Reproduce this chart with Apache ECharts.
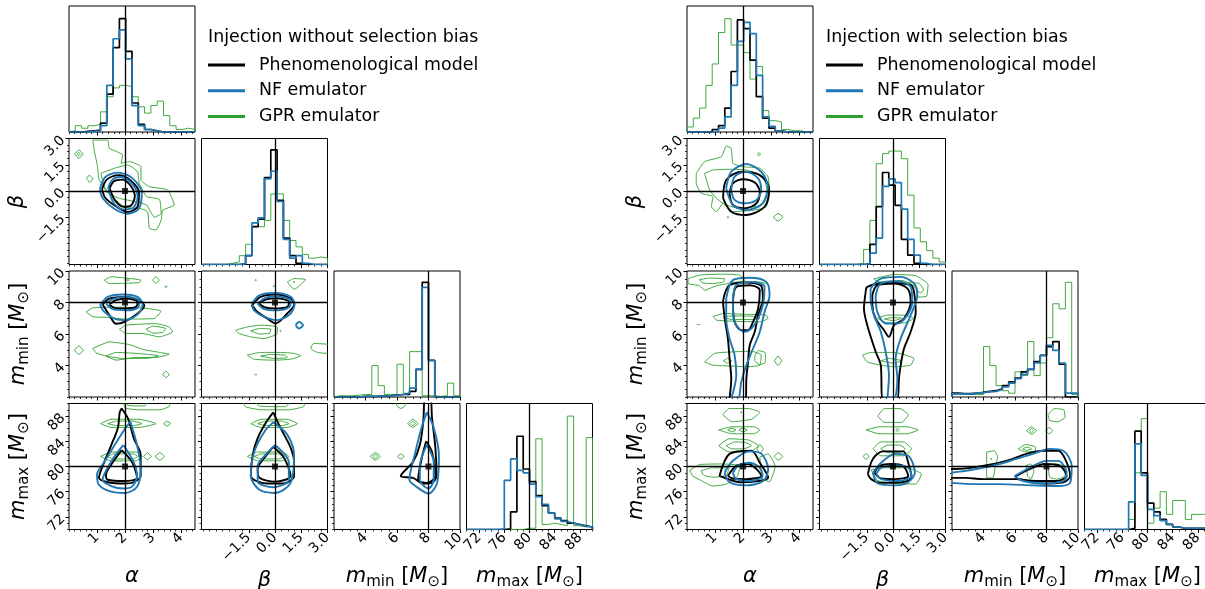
<!DOCTYPE html>
<html><head><meta charset="utf-8">
<script src="https://cdn.jsdelivr.net/npm/echarts@6/dist/echarts.min.js"></script>
<style>html,body{margin:0;padding:0;background:#fff}#c{width:1205px;height:589px}</style>
</head><body><div id="c"></div>
<script>
// ---------------- axes / truths ----------------
const rangeAlpha = [0, 4.5], rangeBeta = [-4.2, 3], rangeMmin = [2, 10], rangeMmax = [70, 90];
const ticksAlpha = [1, 2, 3, 4];
const ticksBeta = [-1.5, 0, 1.5, 3];
const ticksMmin = [4, 6, 8, 10];
const ticksMmax = [72, 76, 80, 84, 88];
const truthAlpha = 2, truthBeta = 0, truthMmin = 8, truthMmax = 80;

// ---------------- histograms (20 bins, height as fraction of panel) ----------------
const hL_alpha_pheno = [0,0,0.005,0.01,0.015,0.07,0.30,0.67,0.90,0.64,0.23,0.06,0.02,0.01,0,0,0,0,0,0];
const hL_alpha_nf    = [0,0,0,0.005,0.01,0.05,0.37,0.74,0.81,0.58,0.21,0.05,0.02,0.01,0,0,0,0,0,0];
const hL_alpha_gpr   = [0.01,0.05,0.03,0.05,0.06,0.16,0.28,0.35,0.37,0.36,0.28,0.20,0.15,0.21,0.245,0.13,0.05,0.02,0.03,0.02];
const hL_beta_pheno  = [0,0,0,0,0,0,0.005,0.07,0.30,0.36,0.69,0.91,0.51,0.21,0.07,0.01,0,0,0,0];
const hL_beta_nf     = [0,0,0,0,0,0,0.005,0.07,0.33,0.37,0.68,0.74,0.50,0.20,0.05,0.07,0.01,0,0,0];
const hL_beta_gpr    = [0,0,0,0,0.01,0.02,0.07,0.16,0.30,0.30,0.35,0.56,0.56,0.35,0.19,0.14,0.08,0.05,0.06,0.05];
const hL_mmin_pheno  = [0,0,0,0,0.005,0.005,0.005,0.01,0.01,0.015,0.02,0.02,0.045,0.22,0.91,0.29,0,0,0,0];
const hL_mmin_nf     = [0,0,0,0,0.005,0.005,0.005,0.01,0.01,0.015,0.02,0.03,0.07,0.22,0.87,0.29,0,0,0,0];
const hL_mmin_gpr    = [0.01,0.01,0.01,0.015,0.02,0.02,0.25,0.09,0.02,0.02,0.26,0.03,0.36,0.36,0.01,0.01,0.005,0.01,0.11,0.01];
const hL_mmax_pheno  = [0,0,0,0,0,0,0.005,0.14,0.74,0.48,0.38,0.27,0.19,0.13,0.09,0.07,0.05,0.04,0.03,0.02];
const hL_mmax_nf     = [0,0,0,0,0,0.005,0.39,0.56,0.47,0.45,0.36,0.26,0.20,0.13,0.085,0.065,0.05,0.04,0.025,0.02];
const hL_mmax_gpr    = [0,0,0,0,0,0,0,0,0,0.01,0.01,0.72,0.04,0.05,0.04,0.03,0.90,0.03,0.02,0.73];

const hR_alpha_pheno = [0,0,0,0,0.02,0.05,0.19,0.48,0.89,0.82,0.57,0.28,0.11,0.03,0.01,0,0,0,0,0];
const hR_alpha_nf    = [0,0,0,0,0.01,0.03,0.12,0.37,0.72,0.87,0.78,0.45,0.12,0.045,0.01,0,0,0,0,0];
const hR_alpha_gpr   = [0.04,0.11,0.19,0.37,0.54,0.79,0.90,0.69,0.69,0.63,0.42,0.52,0.17,0.09,0.08,0.02,0.01,0.01,0,0];
const hR_beta_pheno  = [0,0,0,0,0,0,0,0.005,0.16,0.46,0.73,0.63,0.47,0.20,0.075,0.01,0,0,0,0];
const hR_beta_nf     = [0,0,0,0,0,0,0,0.005,0.09,0.21,0.62,0.68,0.65,0.44,0.20,0.075,0.01,0,0,0];
const hR_beta_gpr    = [0,0,0,0,0,0,0.01,0.12,0.35,0.80,0.88,0.90,0.90,0.84,0.55,0.29,0.18,0.11,0.05,0.02];
const hR_mmin_pheno  = [0.03,0.027,0.027,0.03,0.037,0.045,0.05,0.065,0.09,0.12,0.15,0.20,0.22,0.28,0.33,0.40,0.44,0.26,0,0];
const hR_mmin_nf     = [0.025,0.025,0.025,0.03,0.035,0.04,0.045,0.06,0.08,0.11,0.145,0.18,0.22,0.27,0.33,0.41,0.37,0.27,0.03,0.03];
const hR_mmin_gpr    = [0.02,0.02,0.02,0.02,0.02,0.40,0.25,0.09,0.05,0.03,0.20,0.17,0.44,0.17,0.27,0.47,0.74,0.70,0.91,0.02];
const hR_mmax_pheno  = [0,0,0,0,0,0,0,0.01,0.78,0.45,0.21,0.14,0.08,0.04,0.02,0.01,0.01,0.01,0.01,0.01];
const hR_mmax_nf     = [0,0,0,0,0,0,0,0.22,0.68,0.43,0.16,0.11,0.07,0.04,0.02,0.01,0.01,0.01,0.01,0.01];
const hR_mmax_gpr    = [0,0,0,0,0,0,0,0.08,0.45,0.88,0.05,0.17,0.30,0.12,0.23,0.23,0.08,0.12,0.12,0.12];

// ---------------- contours (lists of polylines in data units) ----------------
// LEFT: alpha-beta
const cL_ab_pheno = [
 [[1.18,0.1],[1.35,0.65],[1.75,0.9],[2.2,0.6],[2.5,-0.1],[2.45,-0.9],[2.1,-1.2],[1.7,-0.9],[1.3,-0.4],[1.18,0.1]],
 [[1.45,0.15],[1.6,0.55],[1.9,0.65],[2.2,0.3],[2.35,-0.3],[2.2,-0.85],[1.95,-0.9],[1.65,-0.55],[1.45,0.15]]];
const cL_ab_nf = [
 [[1.1,0.1],[1.3,0.8],[1.75,1.05],[2.25,0.75],[2.6,-0.1],[2.5,-1.0],[2.1,-1.3],[1.6,-1.0],[1.2,-0.4],[1.1,0.1]],
 [[1.4,0.2],[1.55,0.65],[1.85,0.8],[2.25,0.4],[2.45,-0.3],[2.3,-0.95],[1.95,-1.05],[1.6,-0.7],[1.4,0.2]]];
const cL_ab_gpr = [
 [[0.85,2.91],[1.38,2.91],[1.44,2.44],[1.92,2.06],[1.86,1.58],[2.15,1.68],[2.57,1.39],[2.57,0.63],[2.87,0.25],[3.52,0.06],[3.76,-0.8],[3.35,-1.09],[3.29,-1.66],[3.11,-2.23],[2.87,-2.13],[2.81,-1.18],[2.51,-0.99],[2.0,-0.95],[1.44,-0.13],[1.08,0.63],[1.02,1.39],[0.9,2.34],[0.85,2.91]],
 [[1.14,1.01],[1.62,1.3],[2.1,1.49],[2.45,1.1],[2.51,0.44],[2.77,-0.32],[3.23,-0.48],[3.29,-1.28],[3.05,-1.5],[2.77,-0.8],[2.39,-0.61],[1.8,-0.42],[1.32,-0.04],[1.14,1.01]],
 [[0.2,2.11],[0.35,2.35],[0.5,2.11],[0.35,1.87],[0.2,2.11]],
 [[0.29,2.11],[0.35,2.2],[0.41,2.11],[0.35,2.02],[0.29,2.11]],
 [[0.62,0.7],[0.72,0.9],[0.85,0.7],[0.75,0.5],[0.62,0.7]]];
// LEFT: alpha-mmin
const cL_am_pheno = [
 [[1.20,7.87],[1.44,8.25],[1.98,8.36],[2.51,8.15],[2.69,7.79],[2.45,7.3],[1.98,6.77],[1.68,6.65],[1.44,7.2],[1.20,7.87]],
 [[1.44,7.87],[1.68,8.15],[2.04,8.25],[2.45,8.04],[2.39,7.72],[2.04,7.62],[1.62,7.66],[1.44,7.87]]];
const cL_am_nf = [
 [[1.11,7.83],[1.38,8.36],[1.92,8.51],[2.45,8.36],[2.63,7.87],[2.45,7.24],[1.98,6.88],[1.62,6.98],[1.26,7.41],[1.11,7.83]],
 [[1.32,7.94],[1.62,8.25],[2.04,8.36],[2.51,8.1],[2.45,7.66],[2.04,7.51],[1.56,7.58],[1.32,7.94]]];
const cL_am_gpr = [
 [[1.26,9.42],[1.5,9.63],[1.92,9.57],[2.57,9.42],[2.51,9.27],[1.92,9.21],[1.44,9.21],[1.26,9.42]],
 [[2.05,9.44],[2.1,9.5],[2.15,9.44],[2.1,9.38],[2.05,9.44]],
 [[2.98,9.42],[3.1,9.63],[3.22,9.42],[3.1,9.21],[2.98,9.42]],
 [[3.42,9.0],[3.46,9.06],[3.5,9.0],[3.46,8.94],[3.42,9.0]],
 [[0.61,7.4],[0.85,7.66],[1.6,7.7],[2.6,7.66],[3.29,7.45],[3.05,6.98],[2.0,6.95],[1.4,7.05],[0.85,7.1],[0.61,7.4]],
 [[1.8,6.3],[2.04,6.56],[3.11,6.66],[3.58,6.45],[3.7,6.14],[3.23,5.82],[2.63,6.03],[2.04,6.03],[1.8,6.3]],
 [[2.75,6.3],[3.0,6.5],[3.45,6.35],[3.35,6.1],[3.0,6.05],[2.75,6.3]],
 [[0.19,4.97],[0.35,5.25],[0.51,4.97],[0.35,4.7],[0.19,4.97]],
 [[0.85,5.08],[1.44,5.5],[2.15,5.33],[2.63,5.03],[3.23,4.83],[3.58,4.72],[3.11,4.51],[2.39,4.51],[1.68,4.34],[1.32,4.6],[0.97,4.8],[0.85,5.08]],
 [[1.32,4.6],[1.68,4.83],[2.4,4.77],[3.2,4.62],[2.8,4.45],[1.9,4.45],[1.32,4.6]],
 [[3.35,3.43],[3.46,3.64],[3.58,3.43],[3.46,3.22],[3.35,3.43]]];
// LEFT: beta-mmin
const cL_bm_pheno = [
 [[-1.30,7.83],[-0.82,8.36],[0.04,8.51],[0.9,8.25],[1.09,7.87],[0.70,7.3],[0.04,6.67],[-0.44,6.98],[-1.01,7.41],[-1.30,7.83]],
 [[-0.91,7.94],[-0.5,8.2],[0.1,8.27],[0.8,8.04],[0.7,7.72],[0.04,7.62],[-0.6,7.7],[-0.91,7.94]]];
const cL_bm_nf = [
 [[-1.35,7.87],[-0.9,8.45],[0.0,8.6],[0.9,8.36],[1.12,7.87],[0.8,7.2],[0.04,6.88],[-0.63,7.1],[-1.15,7.45],[-1.35,7.87]],
 [[-1.0,7.94],[-0.55,8.3],[0.1,8.4],[0.9,8.1],[0.8,7.7],[0.1,7.5],[-0.65,7.6],[-1.0,7.94]],
 [[1.18,6.56],[1.37,6.77],[1.6,6.56],[1.37,6.35],[1.18,6.56]]];
const cL_bm_gpr = [
 [[-1.14,9.42],[-1.1,9.47],[-1.06,9.42],[-1.1,9.37],[-1.14,9.42]],
 [[-0.1,9.04],[-0.06,9.09],[-0.02,9.04],[-0.06,8.99],[-0.1,9.04]],
 [[0.7,9.3],[1.09,9.52],[1.75,9.45],[1.37,9.04],[1.09,8.83],[0.9,9.04],[0.7,9.3]],
 [[1.05,9.3],[1.09,9.35],[1.13,9.3],[1.09,9.25],[1.05,9.3]],
 [[-2.25,6.24],[-1.58,6.45],[-0.82,6.56],[0.13,6.45],[0.13,6.03],[-0.63,5.71],[-1.39,5.82],[-2.06,6.03],[-2.25,6.24]],
 [[-1.39,6.2],[-0.9,6.35],[-0.25,6.3],[-0.3,6.05],[-0.9,6.0],[-1.39,6.2]],
 [[0.28,6.2],[0.32,6.25],[0.36,6.2],[0.32,6.15],[0.28,6.2]],
 [[3.1,5.35],[2.2,5.4],[2.04,5.08],[2.42,4.83],[3.1,4.76]],
 [[-1.58,4.66],[-0.82,4.83],[0.32,4.83],[1.09,4.77],[1.47,4.62],[0.9,4.4],[-0.06,4.34],[-1.2,4.4],[-1.58,4.66]],
 [[-0.82,4.6],[-0.25,4.7],[0.6,4.65],[0.7,4.5],[-0.06,4.45],[-0.82,4.6]],
 [[-1.14,3.43],[-1.1,3.48],[-1.06,3.43],[-1.1,3.38],[-1.14,3.43]]];
// LEFT: alpha-mmax
const cL_aM_pheno = [
 [[1.88,89.2],[2.12,87.5],[2.31,84.5],[2.56,81.8],[2.56,78.5],[2.31,77.5],[2.0,77.3],[1.38,77.5],[1.07,78.2],[1.26,80.7],[1.51,83.4],[1.75,86.2],[1.81,88.6],[1.88,89.2]],
 [[1.88,82.6],[2.25,80.7],[2.43,78.2],[2.0,77.7],[1.38,77.9],[1.32,78.7],[1.57,80.7],[1.88,82.6]]];
const cL_aM_nf = [
 [[2.19,87.1],[2.43,83.4],[2.56,79.6],[2.43,76.8],[2.0,75.8],[1.51,76.0],[1.07,77.1],[1.0,78.7],[1.26,80.7],[1.63,83.4],[2.0,86.0],[2.19,87.1]],
 [[1.94,83.4],[2.31,80.7],[2.43,78.5],[2.25,76.8],[1.94,76.5],[1.51,76.9],[1.2,77.9],[1.38,79.8],[1.69,82.0],[1.94,83.4]]];
const cL_aM_gpr = [
 [[1.94,90.6],[2.0,89.3],[2.5,89.0],[3.25,89.0],[3.6,89.6],[3.5,90.6]],
 [[1.94,90.6],[2.1,89.7],[2.7,89.6],[2.85,90.6]],
 [[1.13,86.8],[1.5,87.5],[2.5,87.5],[3.11,86.8],[2.5,86.2],[1.5,86.2],[1.13,86.8]],
 [[1.38,86.8],[1.7,87.2],[2.3,87.2],[2.6,86.8],[2.3,86.5],[1.7,86.5],[1.38,86.8]],
 [[3.38,86.8],[3.5,87.2],[3.63,86.8],[3.5,86.4],[3.38,86.8]],
 [[1.13,81.6],[1.5,82.3],[2.4,82.3],[2.6,81.6],[2.4,80.9],[1.5,80.9],[1.13,81.6]],
 [[1.38,81.6],[1.6,82.0],[2.3,82.0],[2.45,81.6],[2.3,81.2],[1.6,81.2],[1.38,81.6]],
 [[2.66,81.6],[2.8,82.15],[2.94,81.6],[2.8,81.05],[2.66,81.6]],
 [[3.07,81.6],[3.24,82.2],[3.41,81.6],[3.24,81.0],[3.07,81.6]]];
// LEFT: beta-mmax
const cL_bM_pheno = [
 [[-0.1,88.6],[0.3,86.2],[0.89,83.0],[1.09,80.7],[1.09,78.5],[0.49,77.3],[-0.49,77.3],[-1.38,78.5],[-1.28,81.8],[-0.99,84.5],[-0.49,87.1],[-0.1,88.6]],
 [[-0.1,83.1],[0.49,81.5],[0.89,78.5],[0.0,77.6],[-0.89,78.2],[-0.99,79.6],[-0.49,81.8],[-0.1,83.1]]];
const cL_bM_nf = [
 [[-0.1,87.0],[0.69,85.1],[1.09,81.8],[0.89,77.4],[0.0,75.8],[-0.89,76.3],[-1.38,78.5],[-1.19,82.3],[-0.59,85.6],[-0.1,87.0]],
 [[0.0,83.4],[0.79,80.7],[0.79,77.9],[-0.1,76.7],[-0.99,77.6],[-0.99,80.1],[-0.49,82.0],[0.0,83.4]]];
const cL_bM_gpr = [
 [[-1.88,90.6],[-1.7,89.5],[-0.8,89.0],[0.8,89.0],[1.68,89.6],[1.6,90.6]],
 [[-1.2,90.6],[-0.9,89.6],[0.6,89.5],[1.0,90.6]],
 [[-1.38,86.8],[-0.8,87.5],[0.7,87.5],[1.28,86.8],[0.7,86.2],[-0.8,86.2],[-1.38,86.8]],
 [[-0.99,86.8],[-0.5,87.2],[0.4,87.2],[0.79,86.8],[0.4,86.5],[-0.5,86.5],[-0.99,86.8]],
 [[-1.58,81.6],[-1.0,82.3],[0.4,82.3],[0.79,81.6],[0.4,80.9],[-1.0,80.9],[-1.58,81.6]],
 [[-1.19,81.6],[-0.8,82.0],[0.2,82.0],[0.5,81.6],[0.2,81.2],[-0.8,81.2],[-1.19,81.6]]];
// LEFT: mmin-mmax
const cL_mM_pheno = [
 [[7.72,91],[8.1,91],[8.22,87.8],[8.44,82.9],[8.51,78.5],[8.22,77.4],[7.67,77.3],[7.01,78.2],[6.24,78.5],[7.01,80.7],[7.45,83.4],[7.67,87.3],[7.72,91]],
 [[7.85,84.0],[8.22,82.3],[8.44,78.5],[7.89,77.4],[7.34,77.9],[7.56,81.2],[7.85,84.0]]];
const cL_mM_nf = [
 [[7.89,88.6],[8.33,86.2],[8.66,81.8],[8.55,77.4],[8.0,75.7],[7.23,76.8],[6.79,77.9],[7.12,81.8],[7.56,86.2],[7.89,88.6]],
 [[7.89,83.4],[8.33,80.7],[8.33,77.9],[8.0,76.5],[7.45,77.9],[7.45,80.1],[7.89,83.4]]];
const cL_mM_gpr = [
 [[5.9,90.6],[6.0,89.6],[6.25,89.2],[6.5,89.6],[6.6,90.6]],
 [[6.68,86.8],[7.0,87.5],[7.34,86.8],[7.0,86.2],[6.68,86.8]],
 [[6.85,86.8],[7.0,87.15],[7.17,86.8],[7.0,86.5],[6.85,86.8]],
 [[4.3,81.6],[4.62,82.2],[4.95,81.6],[4.62,81.0],[4.3,81.6]],
 [[4.47,81.6],[4.62,81.9],[4.78,81.6],[4.62,81.3],[4.47,81.6]],
 [[6.02,81.6],[6.24,82.0],[6.46,81.6],[6.24,81.2],[6.02,81.6]]];

// RIGHT: alpha-beta
const cR_ab_pheno = [
 [[1.29,-0.42],[1.40,0.63],[1.94,1.1],[2.6,0.91],[2.93,0.15],[2.77,-0.9],[2.12,-1.37],[1.58,-1.18],[1.29,-0.42]],
 [[1.52,-0.13],[1.64,0.44],[2.0,0.67],[2.42,0.48],[2.6,-0.04],[2.48,-0.7],[2.06,-0.99],[1.64,-0.8],[1.52,-0.13]]];
const cR_ab_nf = [
 [[1.40,0.15],[1.58,1.1],[2.12,1.54],[2.65,1.1],[2.89,0.25],[2.71,-0.7],[2.12,-1.09],[1.64,-0.8],[1.40,0.15]],
 [[1.58,0.06],[1.7,0.82],[2.12,1.1],[2.54,0.72],[2.65,0.06],[2.48,-0.51],[2.06,-0.7],[1.7,-0.51],[1.58,0.06]]];
const cR_ab_gpr = [
 [[0.33,1.01],[0.63,1.68],[1.23,1.96],[1.40,2.57],[1.58,2.44],[1.64,1.58],[2.0,1.39],[2.6,1.3],[2.89,0.82],[2.95,-0.13],[2.83,-0.9],[2.42,-1.09],[1.64,-1.18],[1.29,-0.7],[1.05,-1.18],[0.87,-0.9],[0.93,-0.32],[0.51,-0.13],[0.33,0.44],[0.33,1.01]],
 [[0.63,1.01],[0.93,1.2],[1.52,1.24],[2.12,1.2],[2.71,0.82],[2.86,0.06],[2.65,-0.8],[1.88,-0.99],[1.40,-0.8],[1.11,-0.51],[0.81,0.06],[0.63,1.01]],
 [[2.52,2.1],[2.57,2.2],[2.62,2.1],[2.57,2.0],[2.52,2.1]],
 [[3.08,-1.5],[3.25,-1.28],[3.42,-1.5],[3.25,-1.72],[3.08,-1.5]],
 [[1.43,-1.5],[1.46,-1.45],[1.49,-1.5],[1.46,-1.55],[1.43,-1.5]]];
// RIGHT: alpha-mmin
const cR_am_pheno = [
 [[1.35,8.57],[1.52,9.1],[2.06,9.27],[2.65,9.06],[2.71,8.25],[2.54,7.2],[2.42,6.14],[2.24,5.29],[2.18,4.23],[2.12,3.17],[2.1,1.9],[1.52,1.9],[1.58,3.17],[1.52,4.44],[1.46,5.71],[1.35,6.98],[1.29,8.04],[1.35,8.57]],
 [[1.64,8.04],[1.76,8.99],[2.24,9.1],[2.6,8.78],[2.54,7.62],[2.36,6.77],[2.18,6.24],[1.94,6.24],[1.7,6.77],[1.64,8.04]]];
const cR_am_nf = [
 [[1.40,8.25],[1.64,9.42],[2.24,9.57],[2.83,9.31],[2.95,8.47],[2.77,7.41],[2.6,6.14],[2.36,5.08],[2.12,4.02],[1.94,2.96],[1.82,1.9],[1.58,1.9],[1.76,3.39],[1.7,4.66],[1.52,5.71],[1.40,6.98],[1.40,8.25]],
 [[1.64,8.25],[1.76,9.1],[2.3,9.31],[2.77,8.99],[2.71,7.83],[2.54,6.98],[2.3,6.35],[2.06,6.14],[1.76,6.56],[1.64,7.41],[1.64,8.25]]];
const cR_am_gpr = [
 [[0.04,9.52],[0.45,9.74],[1.3,9.8],[1.88,9.74],[2.06,9.4],[1.6,9.25],[1.05,9.06],[0.63,8.78],[0.45,9.06],[0.04,9.21],[0.04,9.52]],
 [[0.45,9.45],[0.8,9.55],[1.35,9.5],[1.3,9.3],[0.9,9.2],[0.55,9.25],[0.45,9.45]],
 [[2.4,9.35],[2.9,9.15],[2.95,8.1],[2.75,7.9],[2.7,8.6]],
 [[0.93,7.1],[1.29,7.3],[2.12,7.25],[2.83,7.2],[2.89,6.98],[2.6,6.77],[1.64,6.81],[1.05,6.88],[0.93,7.1]],
 [[1.29,7.05],[1.6,7.15],[2.4,7.12],[2.6,7.0],[2.3,6.92],[1.6,6.92],[1.29,7.05]],
 [[0.35,6.6],[0.47,6.6]],
 [[0.63,4.23],[0.99,4.77],[1.7,4.87],[2.3,4.91],[2.65,4.66],[2.6,4.02],[2.12,3.92],[1.4,3.98],[0.93,4.02],[0.63,4.23]],
 [[1.3,4.3],[1.45,4.45],[1.6,4.3],[1.45,4.15],[1.3,4.3]],
 [[2.42,4.6],[2.55,4.95],[2.8,4.8],[2.8,4.2],[2.6,4.05],[2.42,4.3],[2.42,4.6]],
 [[3.12,4.3],[3.25,4.6],[3.38,4.3],[3.25,4.0],[3.12,4.3]]];
// RIGHT: beta-mmin
const cR_bm_pheno = [
 [[-1.56,8.68],[-1.47,8.99],[-0.4,9.25],[1.01,9.1],[1.2,8.68],[1.3,7.41],[1.01,6.14],[0.63,5.08],[0.44,4.02],[0.34,3.17],[0.25,1.9],[-0.61,1.9],[-0.7,4.02],[-0.99,4.87],[-1.47,6.56],[-1.66,7.62],[-1.56,8.68]],
 [[-1.18,8.47],[-0.9,9.1],[0.06,9.21],[0.82,8.89],[1.01,8.04],[0.63,6.98],[0.06,6.56],[-0.23,5.82],[-0.51,6.24],[-0.99,6.98],[-1.18,7.83],[-1.18,8.47]]];
const cR_bm_nf = [
 [[-1.28,8.89],[-0.7,9.52],[0.44,9.63],[1.2,9.21],[1.39,8.47],[1.01,7.2],[0.44,5.71],[0.15,4.44],[0.25,3.17],[0.06,1.9],[-0.32,1.9],[-0.23,3.39],[-0.42,4.87],[-0.7,6.14],[-1.09,7.2],[-1.28,8.25],[-1.28,8.89]],
 [[-0.99,8.47],[-0.7,9.21],[0.25,9.35],[1.01,8.99],[1.1,8.04],[0.82,7.2],[0.25,6.67],[-0.42,6.67],[-0.9,7.41],[-0.99,8.47]]];
const cR_bm_gpr = [
 [[-1.1,9.5],[0.06,9.78],[1.3,9.7],[2.0,9.15],[1.92,8.4],[1.4,8.35],[1.3,9.0],[0.5,9.4],[-0.8,9.3],[-1.1,9.5]],
 [[0.9,9.3],[1.5,9.2],[1.75,8.8],[1.55,8.6],[1.3,8.9],[0.9,9.3]],
 [[-0.9,7.0],[-0.3,7.2],[0.6,7.2],[1.2,7.0],[0.6,6.7],[-0.3,6.7],[-0.9,7.0]],
 [[-0.5,6.95],[0.0,7.05],[0.5,7.0],[0.0,6.85],[-0.5,6.95]],
 [[-1.75,4.66],[-1.28,4.83],[0.06,4.83],[1.2,4.44],[1.01,4.02],[0.06,3.92],[-0.7,4.02],[-1.47,4.23],[-1.75,4.66]],
 [[-0.7,4.3],[-0.2,4.45],[0.5,4.3],[0.0,4.15],[-0.7,4.3]]];
// RIGHT: alpha-mmax
const cR_aM_pheno = [
 [[1.16,78.5],[1.52,82.0],[2.3,82.5],[2.6,80.6],[2.9,78.2],[2.54,77.7],[1.88,77.5],[1.4,78.1],[1.16,78.5]],
 [[1.46,78.5],[1.76,80.1],[2.18,80.4],[2.48,79.6],[2.66,78.5],[2.12,78.0],[1.64,78.1],[1.46,78.5]]];
const cR_aM_nf = [
 [[1.34,79.0],[1.64,80.9],[2.24,82.4],[2.66,82.0],[2.9,79.6],[2.72,77.7],[2.12,77.0],[1.52,77.5],[1.34,79.0]],
 [[1.64,79.0],[1.82,80.1],[2.24,80.6],[2.6,79.8],[2.7,78.5],[2.24,77.7],[1.76,78.0],[1.64,79.0]]];
const cR_aM_gpr = [
 [[1.28,88.2],[1.5,89.2],[2.2,89.2],[2.6,88.6],[2.3,87.5],[1.6,87.1],[1.28,88.2]],
 [[1.9,88.6],[1.93,88.7],[1.96,88.6],[1.93,88.5],[1.9,88.6]],
 [[1.13,85.8],[1.6,86.3],[2.4,86.3],[2.6,85.8],[2.4,85.2],[1.6,85.2],[1.13,85.8]],
 [[1.45,85.8],[1.6,86.1],[1.75,85.8],[1.6,85.5],[1.45,85.8]],
 [[1.85,85.8],[2.0,86.1],[2.15,85.8],[2.0,85.5],[1.85,85.8]],
 [[1.13,83.3],[1.5,84.4],[2.2,84.2],[2.55,83.3],[2.3,82.4],[1.5,82.3],[1.13,83.3]],
 [[1.4,83.3],[1.7,83.9],[2.1,83.8],[2.3,83.3],[2.0,82.8],[1.6,82.8],[1.4,83.3]],
 [[2.5,82.8],[2.6,83.5],[2.72,82.8],[2.6,82.1],[2.5,82.8]],
 [[3.1,81.6],[3.26,82.2],[3.42,81.6],[3.26,81.0],[3.1,81.6]],
 [[0.1,79.4],[0.45,80.3],[1.3,80.4],[1.9,80.1],[1.8,78.5],[1.4,77.2],[0.9,76.9],[0.5,77.8],[0.2,78.5],[0.1,79.4]],
 [[0.5,79.3],[0.9,79.8],[1.5,79.7],[1.4,78.6],[0.95,78.3],[0.6,78.6],[0.5,79.3]],
 [[2.6,81.5],[2.9,82.0],[3.15,80.0],[2.95,77.6],[2.7,78.0],[2.6,81.5]]];
// RIGHT: beta-mmax
const cR_bM_pheno = [
 [[-1.44,78.8],[-1.15,81.2],[-0.58,82.4],[0.58,82.4],[0.87,80.6],[1.06,78.2],[0.48,77.5],[-0.67,77.4],[-1.25,78.0],[-1.44,78.8]],
 [[-1.06,79.0],[-0.77,80.1],[-0.1,80.4],[0.58,80.1],[0.87,78.5],[0.1,78.0],[-0.67,78.1],[-1.06,79.0]]];
const cR_bM_nf = [
 [[-1.15,79.0],[-0.67,80.6],[0.1,82.0],[0.87,81.7],[1.25,79.0],[0.87,77.5],[0.1,77.0],[-0.87,77.3],[-1.15,79.0]],
 [[-0.96,78.8],[-0.67,79.8],[0.1,80.2],[0.87,79.8],[1.06,78.5],[0.29,77.7],[-0.67,78.0],[-0.96,78.8]]];
const cR_bM_gpr = [
 [[-0.87,88.0],[-0.5,89.2],[0.4,89.2],[0.87,88.2],[0.5,87.0],[-0.5,87.0],[-0.87,88.0]],
 [[-1.54,85.8],[-0.8,86.3],[0.8,86.3],[1.44,85.8],[0.8,85.2],[-0.8,85.2],[-1.54,85.8]],
 [[0.15,85.8],[0.25,86.05],[0.35,85.8],[0.25,85.55],[0.15,85.8]],
 [[-1.15,82.8],[-0.7,83.9],[0.6,83.9],[1.06,82.8],[0.6,81.7],[-0.7,81.7],[-1.15,82.8]],
 [[-0.7,82.8],[-0.3,83.4],[0.4,83.4],[0.7,82.8],[0.4,82.2],[-0.3,82.2],[-0.7,82.8]],
 [[-1.7,81.6],[-1.54,82.1],[-1.38,81.6],[-1.54,81.1],[-1.7,81.6]],
 [[-1.25,79.5],[-0.5,79.8],[0.8,79.8],[1.63,78.8],[1.3,77.2],[0.2,77.3],[-0.9,77.8],[-1.25,79.5]]];
// RIGHT: mmin-mmax
const cR_mM_pheno = [
 [[1.9,79.6],[2.87,79.7],[3.94,80.1],[5.0,80.6],[5.86,81.2],[6.72,82.0],[7.79,82.5],[8.75,82.5],[9.18,81.2],[9.5,78.5],[9.07,77.5],[7.79,77.3],[6.08,78.0],[3.94,78.0],[2.87,78.2],[1.9,78.2]],
 [[6.08,78.5],[6.93,79.6],[7.89,80.4],[8.85,80.1],[9.28,78.5],[8.64,77.7],[7.36,77.7],[6.08,78.2],[6.08,78.5]]];
const cR_mM_nf = [
 [[1.9,79.0],[2.87,79.3],[3.94,79.8],[5.0,80.4],[6.08,81.2],[7.15,82.0],[8.21,82.8],[9.07,82.5],[9.6,80.1],[9.5,77.4],[8.64,76.9],[7.15,77.0],[5.0,77.2],[3.5,77.2],[1.9,77.4]],
 [[5.97,78.5],[6.93,79.8],[8.0,80.9],[8.75,80.9],[9.28,79.0],[9.07,77.7],[7.79,77.3],[6.5,77.7],[5.97,78.5]]];
const cR_mM_gpr = [
 [[8.1,88.2],[8.5,89.2],[9.1,89.0],[9.18,87.8],[8.7,87.1],[8.2,87.3],[8.1,88.2]],
 [[6.72,85.7],[7.04,86.3],[7.36,85.7],[7.04,85.1],[6.72,85.7]],
 [[6.9,85.7],[7.04,86.0],[7.18,85.7],[7.04,85.4],[6.9,85.7]],
 [[7.95,85.7],[8.17,86.2],[8.4,85.7],[8.17,85.2],[7.95,85.7]],
 [[6.2,82.8],[6.7,83.5],[7.3,83.1],[7.3,82.5],[6.7,82.3],[6.2,82.8]],
 [[6.5,82.8],[6.75,83.1],[7.05,82.8],[6.75,82.55],[6.5,82.8]],
 [[4.2,82.3],[4.7,82.5],[4.9,81.5],[4.75,80.0],[4.6,78.2],[4.2,78.2],[4.2,80.0],[4.2,82.3]],
 [[4.45,81.2],[4.5,81.3],[4.55,81.2],[4.5,81.1],[4.45,81.2]],
 [[8.1,80.3],[8.6,80.4],[9.15,80.0],[9.18,78.5],[8.7,78.0],[8.2,78.3],[8.1,80.3]],
 [[6.72,80.2],[7.0,80.4],[7.2,79.2],[7.0,78.0],[6.8,78.5],[6.72,80.2]]];

// ---------------- assembly ----------------
const FONT = 'DejaVu Sans';
const P = ['alpha','beta','mmin','mmax'];
const RANGE = {alpha:rangeAlpha, beta:rangeBeta, mmin:rangeMmin, mmax:rangeMmax};
const MAJOR = {alpha:ticksAlpha, beta:ticksBeta, mmin:ticksMmin, mmax:ticksMmax};
const MINOR_DIV = {alpha:5, beta:4, mmin:4, mmax:4};
const TRUTH = {alpha:truthAlpha, beta:truthBeta, mmin:truthMmin, mmax:truthMmax};
const FMT = {
  alpha: v => String(v),
  beta: v => (v < 0 ? '\u2212' : '') + Math.abs(v).toFixed(1),
  mmin: v => String(v),
  mmax: v => String(v)
};
const AXNAME = {
  alpha: '{i|\u03b1}', beta: '{i|\u03b2}',
  mmin: '{i|m}{s|min} {r|[}{i|M}{s|\u2299}{r|]}',
  mmax: '{i|m}{s|max} {r|[}{i|M}{s|\u2299}{r|]}'
};
const NAME_STYLE = {fontFamily:FONT, fontSize:21, color:'#000', lineHeight:26,
  rich:{ i:{fontFamily:FONT, fontStyle:'italic', fontSize:21, lineHeight:26, color:'#000'},
         s:{fontFamily:FONT, fontSize:15, lineHeight:15, verticalAlign:'bottom', color:'#000'},
         r:{fontFamily:FONT, fontSize:21, lineHeight:26, color:'#000'} } };
const MODELS = ['pheno','nf','gpr'];
const MNAME = {pheno:'Phenomenological model', nf:'NF emulator', gpr:'GPR emulator'};
const MCOLOR = {pheno:'#000000', nf:'#1f77b4', gpr:'#2ca02c'};
const HIST = {
  L:{alpha:{pheno:hL_alpha_pheno,nf:hL_alpha_nf,gpr:hL_alpha_gpr}, beta:{pheno:hL_beta_pheno,nf:hL_beta_nf,gpr:hL_beta_gpr},
     mmin:{pheno:hL_mmin_pheno,nf:hL_mmin_nf,gpr:hL_mmin_gpr}, mmax:{pheno:hL_mmax_pheno,nf:hL_mmax_nf,gpr:hL_mmax_gpr}},
  R:{alpha:{pheno:hR_alpha_pheno,nf:hR_alpha_nf,gpr:hR_alpha_gpr}, beta:{pheno:hR_beta_pheno,nf:hR_beta_nf,gpr:hR_beta_gpr},
     mmin:{pheno:hR_mmin_pheno,nf:hR_mmin_nf,gpr:hR_mmin_gpr}, mmax:{pheno:hR_mmax_pheno,nf:hR_mmax_nf,gpr:hR_mmax_gpr}}
};
const CONT = {
  L:{ab:{pheno:cL_ab_pheno,nf:cL_ab_nf,gpr:cL_ab_gpr}, am:{pheno:cL_am_pheno,nf:cL_am_nf,gpr:cL_am_gpr},
     bm:{pheno:cL_bm_pheno,nf:cL_bm_nf,gpr:cL_bm_gpr}, aM:{pheno:cL_aM_pheno,nf:cL_aM_nf,gpr:cL_aM_gpr},
     bM:{pheno:cL_bM_pheno,nf:cL_bM_nf,gpr:cL_bM_gpr}, mM:{pheno:cL_mM_pheno,nf:cL_mM_nf,gpr:cL_mM_gpr}},
  R:{ab:{pheno:cR_ab_pheno,nf:cR_ab_nf,gpr:cR_ab_gpr}, am:{pheno:cR_am_pheno,nf:cR_am_nf,gpr:cR_am_gpr},
     bm:{pheno:cR_bm_pheno,nf:cR_bm_nf,gpr:cR_bm_gpr}, aM:{pheno:cR_aM_pheno,nf:cR_aM_nf,gpr:cR_aM_gpr},
     bM:{pheno:cR_bM_pheno,nf:cR_bM_nf,gpr:cR_bM_gpr}, mM:{pheno:cR_mM_pheno,nf:cR_mM_nf,gpr:cR_mM_gpr}}
};
const PAIR = {'1_0':'ab','2_0':'am','2_1':'bm','3_0':'aM','3_1':'bM','3_2':'mM'};
const SIDES = [
  {key:'L', x0:69, title:'Injection without selection bias', legLeft:208},
  {key:'R', x0:687, title:'Injection with selection bias', legLeft:826}
];
const PANEL = 126, STEP = 132.5, TOP0 = 6;

function minorTicks(p) {
  const [lo, hi] = RANGE[p], maj = MAJOR[p], st = (maj[1]-maj[0]) / MINOR_DIV[p], t0 = maj[0];
  const out = [];
  const kmin = Math.ceil((lo - t0)/st - 1e-9), kmax = Math.floor((hi - t0)/st + 1e-9);
  for (let k = kmin; k <= kmax; k++) {
    const v = +(t0 + k*st).toFixed(6);
    if (!maj.some(m => Math.abs(m - v) < 1e-6)) out.push(v);
  }
  return out;
}
function stepPoints(vals, rng) {
  const n = vals.length, w = (rng[1]-rng[0]) / n, pts = [[rng[0], 0]];
  vals.forEach((v, i) => { pts.push([rng[0] + i*w, v]); pts.push([rng[0] + (i+1)*w, v]); });
  pts.push([rng[1], 0]);
  return pts;
}
function axisPair(dim, gi, p, showLabel) {
  const [lo, hi] = RANGE[p];
  const pos = dim === 'x' ? 'bottom' : 'left';
  const major = {
    gridIndex:gi, type:'value', min:lo, max:hi, position:pos,
    axisLine:{show:false, onZero:false}, splitLine:{show:false},
    axisTick:{show:true, customValues:MAJOR[p], length:3.5, lineStyle:{color:'#000', width:1}},
    axisLabel:{show:showLabel, customValues:MAJOR[p], rotate:45, margin:6, formatter:FMT[p], hideOverlap:false,
               showMinLabel:true, showMaxLabel:true, fontSize:14, fontFamily:FONT, color:'#000'},
    name: showLabel ? AXNAME[p] : '', nameLocation:'middle', nameGap: dim === 'x' ? 34 : 37,
    nameTextStyle: NAME_STYLE
  };
  const minor = {
    gridIndex:gi, type:'value', min:lo, max:hi, position:pos,
    axisLine:{show:false, onZero:false}, splitLine:{show:false},
    axisTick:{show:true, customValues:minorTicks(p), length:2, lineStyle:{color:'#000', width:0.8}},
    axisLabel:{show:false}
  };
  return [major, minor];
}
const MARKLINE_STYLE = {symbol:['none','none'], silent:true, animation:false, label:{show:false},
  lineStyle:{color:'#000', width:1.3, type:'solid'}, emphasis:{disabled:true}};

const grid = [], xAxis = [], yAxis = [], series = [];
SIDES.forEach(s => {
  for (let r = 0; r < 4; r++) for (let c = 0; c <= r; c++) {
    const gi = grid.length;
    grid.push({left: s.x0 + STEP*c, top: TOP0 + STEP*r, width: PANEL, height: PANEL, show:true,
      borderColor:'#000', borderWidth:1, backgroundColor:'rgba(0,0,0,0)', containLabel:false, outerBoundsMode:'none'});
    const px = P[c];
    const xi = xAxis.length;
    xAxis.push(...axisPair('x', gi, px, r === 3));
    const yi = yAxis.length;
    if (r === c) {
      yAxis.push({gridIndex:gi, type:'value', min:0, max:1, show:false});
      ['gpr','pheno','nf'].forEach(m => {
        const ser = {type:'line', name:MNAME[m], xAxisIndex:xi, yAxisIndex:yi, data: stepPoints(HIST[s.key][px][m], RANGE[px]),
          showSymbol:false, symbol:'none', silent:true, animation:false, color:MCOLOR[m],
          lineStyle:{color:MCOLOR[m], width: m === 'gpr' ? 1 : 1.7, opacity: m === 'gpr' ? 0.9 : 1},
          z: m === 'gpr' ? 2 : (m === 'pheno' ? 3 : 4)};
        if (m === 'pheno') ser.markLine = Object.assign({data:[{xAxis: TRUTH[px]}]}, MARKLINE_STYLE);
        series.push(ser);
      });
    } else {
      const py = P[r];
      yAxis.push(...axisPair('y', gi, py, c === 0));
      const key = PAIR[r + '_' + c];
      ['gpr','pheno','nf'].forEach(m => {
        CONT[s.key][key][m].forEach(poly => series.push({
          type:'line', name:MNAME[m], xAxisIndex:xi, yAxisIndex:yi, data:poly,
          showSymbol:false, symbol:'none', silent:true, animation:false, smooth: m === 'gpr' ? 0.15 : 0.3,
          color:MCOLOR[m], lineStyle:{color:MCOLOR[m], width: m === 'gpr' ? 1 : 1.9, opacity: m === 'gpr' ? 0.9 : 1},
          z: m === 'gpr' ? 2 : (m === 'pheno' ? 3 : 4)
        }));
      });
      series.push({type:'scatter', name:'truth', xAxisIndex:xi, yAxisIndex:yi, data:[[TRUTH[px], TRUTH[py]]],
        symbol:'rect', symbolSize:6, itemStyle:{color:'#000'}, silent:true, animation:false, z:10,
        markLine: Object.assign({data:[{xAxis: TRUTH[px]}, {yAxis: TRUTH[py]}]}, MARKLINE_STYLE)});
    }
  }
});

const option = {
  backgroundColor:'#ffffff',
  animation:false,
  title: SIDES.map(s => ({text:s.title, left:s.legLeft, top:27, padding:0,
    textStyle:{fontFamily:FONT, fontSize:17.4, fontWeight:'normal', color:'#000', lineHeight:20}})),
  legend: SIDES.map(s => ({
    left:s.legLeft, top:55, padding:0, orient:'vertical', itemWidth:37, itemHeight:3, itemGap:5.7,
    icon:'rect', selectedMode:false,
    data: MODELS.map(m => ({name:MNAME[m], icon:'rect', itemStyle:{color:MCOLOR[m]}})),
    textStyle:{fontFamily:FONT, fontSize:17.4, color:'#000', lineHeight:20, padding:[0,0,0,9]}
  })),
  grid, xAxis, yAxis, series
};
const chart = echarts.init(document.getElementById('c'), null, {renderer:'canvas'});
chart.setOption(option);
</script></body></html>
